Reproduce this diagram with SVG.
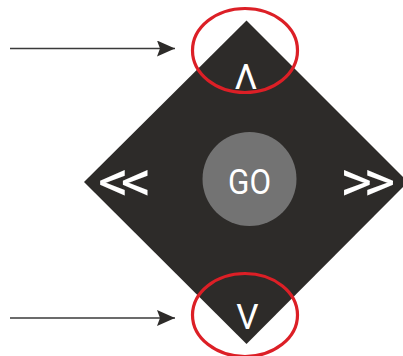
<svg xmlns="http://www.w3.org/2000/svg" width="403" height="356" viewBox="0 0 403 356">
<defs>
<style>
.lbl{font-family:Roboto,"Liberation Sans",sans-serif;font-size:35px;fill:#fff;text-anchor:middle}
.arr{font-size:58px;text-anchor:start}
.ring{fill:none;stroke:#dc1f26;stroke-width:3.2}
.conn{stroke:#3a3a3a;stroke-width:1.4;fill:none}
</style>
<marker id="ah" viewBox="0 0 18 16" refX="18" refY="8" markerWidth="18" markerHeight="16" markerUnits="userSpaceOnUse" orient="auto">
<path d="M0,0 L18,8 L0,16 L3,8 Z" fill="#2d2b29"/>
</marker>
</defs>
<rect width="403" height="356" fill="#fff"/>
<g id="pad">
<polygon points="246.5,20.5 408,182 246.5,344 84,182" fill="#2d2b29"/>
</g>
<g id="up"><text class="lbl" x="246" y="89">Λ</text></g>
<g id="down"><text class="lbl" x="247.5" y="329">V</text></g>
<g id="left"><text class="lbl arr" transform="translate(98,0) scale(1.06,1)" x="0 21.5" y="201">&lt;&lt;</text></g>
<g id="right"><text class="lbl arr" transform="translate(340,0) scale(1.06,1)" x="0 22" y="201">&gt;&gt;</text></g>
<g id="go">
<circle cx="249.5" cy="179" r="47" fill="#737373"/>
<text class="lbl" x="249.5" y="194" textLength="43" lengthAdjust="spacingAndGlyphs">GO</text>
</g>
<g id="hl-top"><ellipse class="ring" cx="245" cy="50.5" rx="52.5" ry="42"/></g>
<g id="hl-bottom"><ellipse class="ring" cx="245" cy="315" rx="52.5" ry="41.5"/></g>
<g id="connectors">
<line class="conn" x1="10" y1="48.5" x2="175" y2="48.5" marker-end="url(#ah)"/>
<line class="conn" x1="10" y1="318" x2="175" y2="318" marker-end="url(#ah)"/>
</g>
</svg>
